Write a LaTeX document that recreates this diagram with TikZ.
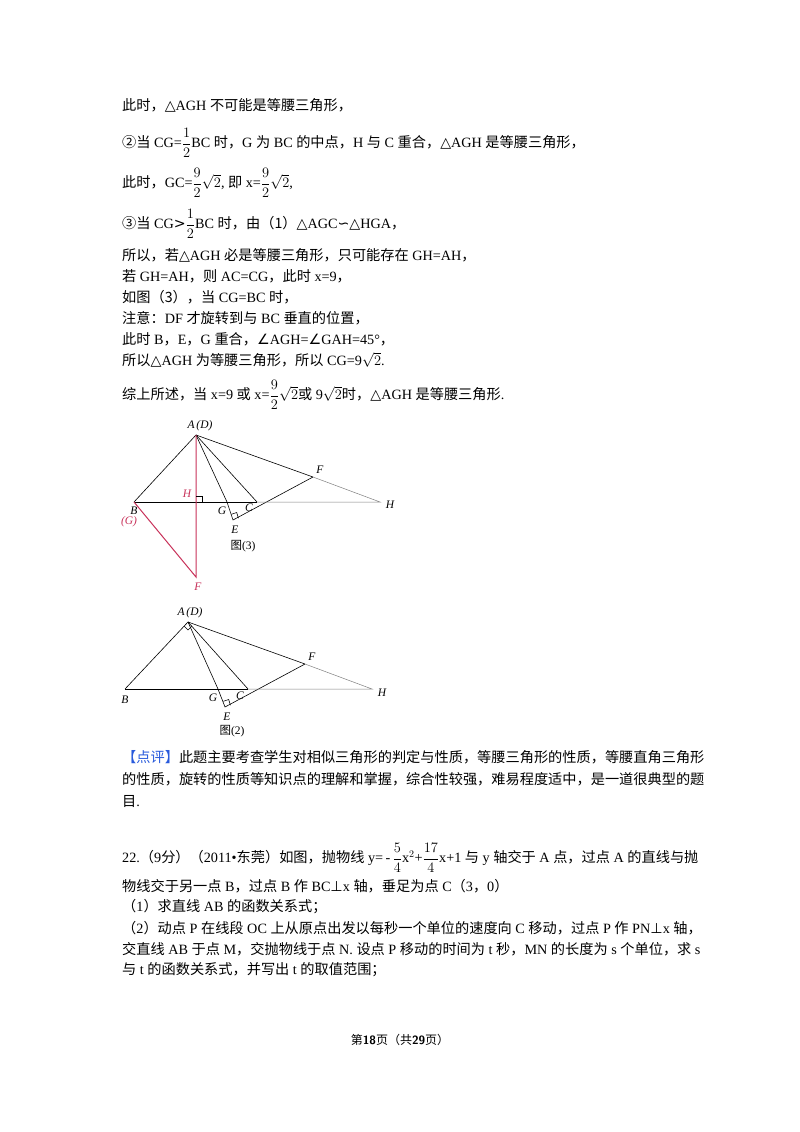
\documentclass[tikz,border=0pt]{standalone}
\usepackage{fontspec}
\setmainfont{Liberation Serif}
\newfontfamily\cjk{Noto Sans CJK SC}
\newfontfamily\djv{DejaVu Sans}
\newcommand{\zh}[1]{{\cjk #1}}
\newcommand{\cm}{{\cjk ，}}
\newcommand{\df}[2]{$\displaystyle\frac{#1}{#2}$}
\definecolor{redl}{RGB}{200,50,90}
\definecolor{bluel}{RGB}{40,90,220}
\begin{document}
\begin{tikzpicture}[x=1pt,y=-1pt,
  txt/.style={anchor=west,inner sep=0pt,font=\fontsize{14.2}{16}\selectfont},
  lab/.style={inner sep=1pt,font=\fontsize{11.5}{13}\selectfont\itshape},
  figlab/.style={inner sep=1pt,font=\fontsize{11.5}{13}\selectfont},
  thinl/.style={gray,line width=0.5pt},
  ln/.style={black,line width=0.6pt}]
\useasboundingbox (0,0) rectangle (800,1132);
\fill[white] (0,0) rectangle (800,1132);
% text block 1
\node[txt] (t1) at (122,105) {\zh{此时，}{\djv △}AGH \zh{不可能是等腰三角形，}};
\node[txt] (t2) at (122,143) {\zh{②当} CG=\df{1}{2}BC \zh{时，}G \zh{为} BC \zh{的中点，}H \zh{与} C \zh{重合，}{\djv △}AGH \zh{是等腰三角形，}};
\node[txt] (t3) at (122,183) {\zh{此时，}GC=\df{9}{2}$\sqrt{2}$, \zh{即} x=\df{9}{2}$\sqrt{2}$,};
\node[txt] (t4) at (122,224) {\zh{③当} CG{\djv >}\df{1}{2}BC \zh{时，由（1）}{\djv △}AGC{\djv ∽△}HGA\cm};
\node[txt] (t5) at (122,255) {\zh{所以，若}{\djv △}AGH \zh{必是等腰三角形，只可能存在} GH=AH\cm};
\node[txt] (t6) at (122,276) {\zh{若} GH=AH\cm\zh{则} AC=CG\cm\zh{此时} x=9\cm};
\node[txt] (t7) at (122,297) {\zh{如图（3），当} CG=BC \zh{时，}};
\node[txt] (t8) at (122,318) {\zh{注意：}DF \zh{才旋转到与} BC \zh{垂直的位置，}};
\node[txt] (t9) at (122,339) {\zh{此时} B\cm E\cm G \zh{重合，}{\djv ∠}AGH={\djv ∠}GAH=45°\cm};
\node[txt] (t10) at (122,360) {\zh{所以}{\djv △}AGH \zh{为等腰三角形，所以} CG=9$\sqrt{2}$.};
\node[txt] (t11) at (122,395) {\zh{综上所述，当} x=9 \zh{或} x=\df{9}{2}$\sqrt{2}$\zh{或} 9$\sqrt{2}$\zh{时，}{\djv △}AGH \zh{是等腰三角形}.};
% figure 3
\coordinate (A3) at (196,435); \coordinate (B3) at (134,502); \coordinate (Hf) at (196,502);
\coordinate (G3) at (227,502); \coordinate (C3) at (257,502); \coordinate (H3) at (380,502);
\coordinate (F3) at (313,477); \coordinate (E3) at (233,520); \coordinate (RF) at (196,577);
\draw[ln] (B3)--(A3)--(G3); \draw[ln] (A3)--(C3); \draw[ln] (A3)--(F3); \draw[ln] (G3)--(E3)--(F3);
\draw[thinl] (F3)--(H3)--(C3); \draw[black,line width=1pt] (B3)--(C3);
\draw[redl,line width=1pt] (A3)--(RF)--(B3);
\draw[ln] (Hf)++(0,-6)--++(6,0)--++(0,6);
\draw[ln] (E3)++(-1.7,-5.7) -- ++(5.4,-1.8) -- ++(1.7,5.7);
\node[lab] (lA3) at (200,426) {A\,(D)};
\node[lab] (lB3) at (134,511) {B};
\node[lab,redl] (lG3) at (129,522) {(G)};
\node[lab,redl] (lH3) at (187,494) {H};
\node[lab] (lGG) at (222,511) {G};
\node[lab] (lC3) at (249,508) {C};
\node[lab] (lE3) at (235,530) {E};
\node[lab] (lF3) at (320,470) {F};
\node[lab] (lHH) at (390,505) {H};
\node[lab,redl] (lRF) at (198,587) {F};
\node[figlab] (fig3) at (243,546) {\zh{图}(3)};
% figure 2
\coordinate (A2) at (188,622); \coordinate (B2) at (125,689); \coordinate (G2) at (218,689);
\coordinate (C2) at (248,689); \coordinate (H2) at (372,689); \coordinate (F2) at (305,664);
\coordinate (E2) at (225,707);
\draw[ln] (B2)--(A2)--(G2); \draw[ln] (A2)--(C2); \draw[ln] (A2)--(F2); \draw[ln] (G2)--(E2)--(F2);
\draw[thinl] (F2)--(H2)--(C2); \draw[black,line width=1pt] (B2)--(C2);
\draw[ln] (E2)++(-1.7,-5.7) -- ++(5.4,-1.8) -- ++(1.7,5.7);
\draw[ln] (A2)++(-4,4)--++(4,4)--++(4,-4);
\node[lab] (lA2) at (190,613) {A\,(D)};
\node[lab] (lB2) at (125,700) {B};
\node[lab] (lG2) at (213,698) {G};
\node[lab] (lC2) at (240,696) {C};
\node[lab] (lE2) at (227,717) {E};
\node[lab] (lF2) at (312,657) {F};
\node[lab] (lH2) at (382,693) {H};
\node[figlab] (fig2) at (232,731) {\zh{图}(2)};
% comment
\node[txt] (c1) at (122,757) {{\color{bluel}\zh{【点评】}}\zh{此题主要考查学生对相似三角形的判定与性质，等腰三角形的性质，等腰直角三角形}};
\node[txt] (c2) at (122,779) {\zh{的性质，旋转的性质等知识点的理解和掌握，综合性较强，难易程度适中，是一道很典型的题}};
\node[txt] (c3) at (122,801) {\zh{目}.};
% problem 22
\node[txt] (p1) at (122,858) {22.\zh{（}9\zh{分）（}2011•\zh{东莞）如图，抛物线} y=\,-\,\df{5}{4}x$^2$+\df{17}{4}x+1 \zh{与} y \zh{轴交于} A \zh{点，过点} A \zh{的直线与抛}};
\node[txt] (p2) at (122,886) {\zh{物线交于另一点} B\cm\zh{过点} B \zh{作} BC{\djv ⊥}x \zh{轴，垂足为点} C\zh{（}3\cm 0\zh{）}};
\node[txt] (p3) at (122,907) {\zh{（}1\zh{）求直线} AB \zh{的函数关系式；}};
\node[txt] (p4) at (122,928) {\zh{（}2\zh{）动点} P \zh{在线段} OC \zh{上从原点出发以每秒一个单位的速度向} C \zh{移动，过点} P \zh{作} PN{\djv ⊥}x \zh{轴，}};
\node[txt] (p5) at (122,949) {\zh{交直线} AB \zh{于点} M\cm\zh{交抛物线于点} N. \zh{设点} P \zh{移动的时间为} t \zh{秒，}MN \zh{的长度为} s \zh{个单位，求} s};
\node[txt] (p6) at (122,970) {\zh{与} t \zh{的函数关系式，并写出} t \zh{的取值范围；}};
\node[inner sep=0pt,font=\fontsize{12}{14}\selectfont] (foot) at (400,1040) {\zh{第}\textbf{\sffamily 18}\zh{页（共}\textbf{\sffamily 29}\zh{页）}};
\end{tikzpicture}
\end{document}
